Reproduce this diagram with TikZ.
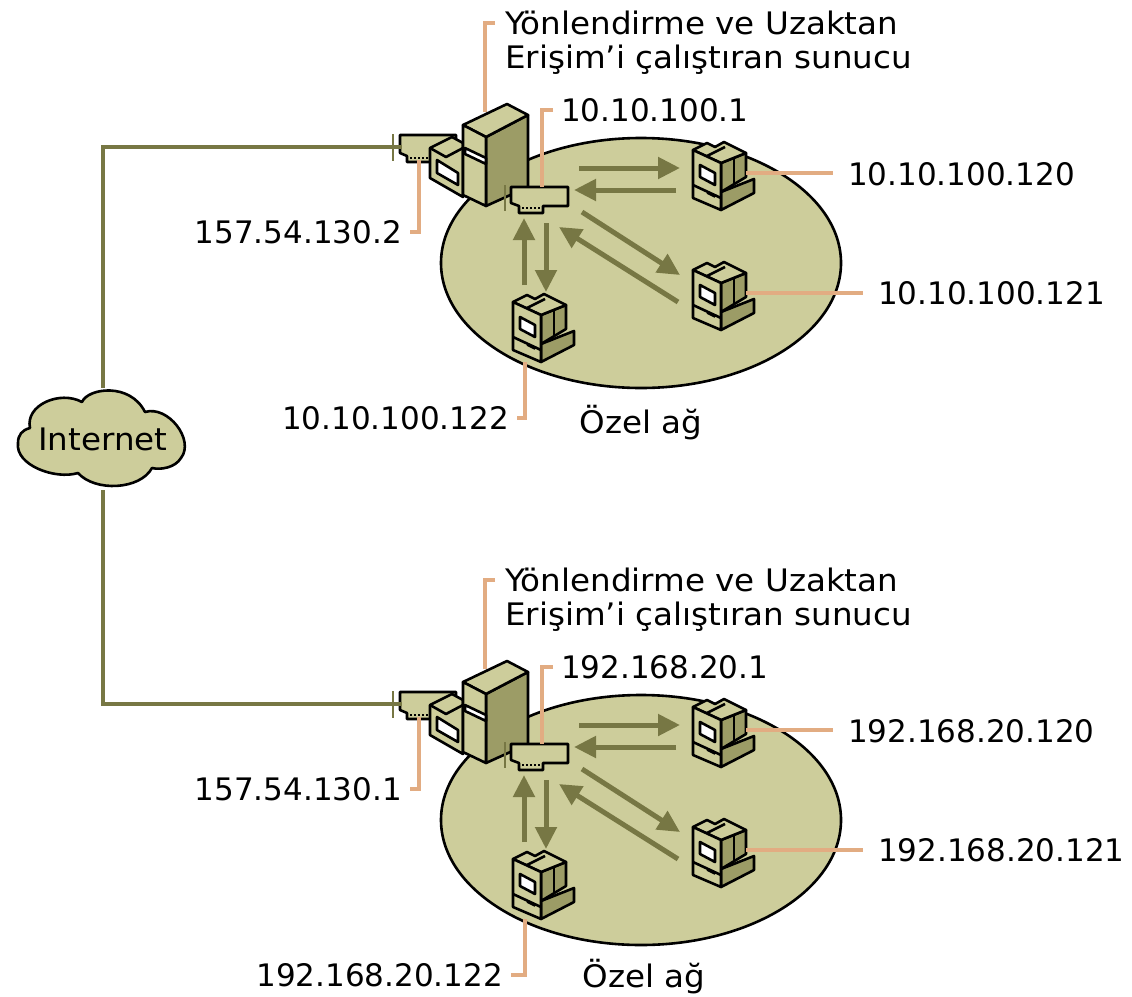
\documentclass[tikz,border=0pt]{standalone}
\usepackage{fontspec}
\setmainfont{DejaVu Sans}
\newfontfamily\widefont[FakeStretch=1.05]{DejaVu Sans}
\usetikzlibrary{arrows.meta}

\definecolor{olivefill}{HTML}{CDCD9B}
\definecolor{oliveside}{HTML}{9C9C66}
\definecolor{olivedark}{HTML}{777744}
\definecolor{leadercol}{HTML}{E2AC82}

\tikzset{
    txt/.style = {font=\fontsize{31}{34}\selectfont, inner ysep=0pt, inner xsep=0pt},
    widetxt/.style = {font=\widefont\fontsize{31}{34}\selectfont, inner ysep=0pt, inner xsep=0pt},
    iplabel/.style = {txt, inner xsep=8pt},
    leader/.style = {draw=leadercol, line width=4pt},
    wanline/.style = {draw=olivedark, line width=4pt},
    flow/.style = {draw=olivedark, line width=5pt, -{Triangle[length=22pt,width=21pt]}},
    blk/.style = {draw=black, line width=2.6pt, line join=round},
    face/.style = {blk, fill=olivefill},
    side/.style = {blk, fill=oliveside},
    pcunit/.style = {inner sep=0pt, minimum width=50pt, minimum height=60pt},
    pcbox/.pic = {
        % base and body
        \path[side] (0,12) -- (33,-1) -- (33,13) -- (0,30) -- cycle;
        \path[side] (0,-17) -- (25,-27) -- (25,-3) -- (0,12) -- cycle;
        \path[face] (-28,-30) -- (-14,-37) -- (-6,-33) -- (3,-38) -- (25,-27) -- (0,-17) -- cycle;
        \path[face] (13,-22) -- (13,4);
        \draw[blk] (-14,-24) -- (4,-33);
        \path[face] (-28,-30) -- (0,-17) -- (0,30) -- (-28,18) -- cycle;
        \path[blk, fill=white] (-21,-15) -- (-6,-7) -- (-6,5) -- (-21,-3) -- cycle;
        \draw[blk] (-28,5) -- (0,18);
        \draw[blk, line width=1.6pt] (-14,13) -- (-6,17);
    }
}

\begin{document}
\begin{tikzpicture}[x=1pt, y=-1pt]
    \useasboundingbox (0,0) rectangle (1132,996);

    % Bulut
    \node[txt, minimum width=164pt, minimum height=102pt] (cloud) at (103,439) {};

    \foreach \n/\yo/\cloudside/\wanip/\net/\ipcx/\privx/\privy in {
        1/0/north/157.54.130.2/10.10.100/517/641/423,
        2/557/south/157.54.130.1/192.168.20/511/644/420} {
    \begin{scope}[yshift=-\yo pt]

        % Privatno omrezje
        \fill[face] (641,263) ellipse [x radius=200, y radius=125];

        % Tocke
        \node[pcunit] (pca\n) at (721,180) {};
        \node[pcunit] (pcb\n) at (721,300) {};
        \node[pcunit] (pcc\n) at (541,332) {};
        \coordinate (wan\n) at (402,147);
        \coordinate (lantop\n) at (542,187);
        \coordinate (wantip\n) at (419,160);
        \coordinate (srvtop\n) at (485,112);
        \coordinate (srvhook\n) at (495,23);

        % Puscice
        \foreach \m/\ax/\ay/\bx/\by in {
            a/579/168/680/168, b/676/190/574/190,
            c/582/212/680/275, d/678/302/559/227,
            e/524/285/524/218, f/546/223/546/292} {
            \coordinate (from\m\n) at (\ax,\ay);
            \coordinate (to\m\n) at (\bx,\by);
            \draw[flow] (from\m\n) -- (to\m\n);
        }

        % Usmerjevalnik
        \path[face] (400,135) -- (456,135) -- (456,162) -- (407,162) -- (407,156) -- (400,153) -- cycle;
        \draw[blk, line width=1.5pt, dash pattern=on 2pt off 2pt] (410,158) -- (428,158);
        \draw[draw=olivedark, line width=2.5pt] (393,134) -- (393,161);
        \path[face] (430,148) -- (452,137) -- (463,143) -- (463,197) -- (430,178) -- cycle;
        \draw[blk] (430,148) -- (446,157) -- (463,148);
        \path[blk, fill=white] (437,160) -- (458,173) -- (458,185) -- (437,173) -- cycle;
        \path[side] (486,137) -- (528,115) -- (528,187) -- (486,206) -- cycle;
        \path[face] (463,125) -- (507,104) -- (528,115) -- (486,137) -- cycle;
        \path[face] (463,125) -- (486,137) -- (486,206) -- (463,195) -- cycle;
        \path[blk, fill=white] (465,148) -- (486,158) -- (486,164) -- (465,154) -- cycle;

        % Omrezna kartica
        \draw[draw=olivedark, line width=2.5pt] (505,185) -- (505,211);
        \path[face] (511,187) -- (568,187) -- (568,206) -- (543,206) -- (543,213) -- (519,213) -- (519,206) -- (511,203) -- cycle;
        \draw[blk, line width=1.5pt, dash pattern=on 2pt off 2pt] (522,208) -- (540,208);

        % Racunalniki
        \pic at (pca\n) {pcbox};
        \pic at (pcb\n) {pcbox};
        \pic at (pcc\n) {pcbox};

        % Oznake
        \node[widetxt, align=left, anchor=north west] (srvlabel\n) at (505,11) {Yönlendirme ve Uzaktan\\Erişim’i çalıştıran sunucu};
        \node[iplabel, anchor=west] (lanip\n) at (553,110) {\net.1};
        \node[iplabel, inner xsep=15pt, anchor=west] (ipa\n) at (833,174) {\net.120};
        \node[iplabel, inner xsep=15pt, anchor=west] (ipb\n) at (863,293) {\net.121};
        \node[iplabel, anchor=east] (ipc\n) at (\ipcx,418) {\net.122};
        \node[iplabel, anchor=east] (wanlabel\n) at (410,232) {\wanip};
        \node[widetxt] (priv\n) at (\privx,\privy) {Özel ağ};

        % Vodila
        \draw[leader] (srvhook\n) -| (srvtop\n);
        \draw[leader] (lanip\n.west) -| (lantop\n);
        \draw[leader] (wanlabel\n.east) -| (wantip\n);
        \draw[leader] (pca\n.east) ++(0,-7) -- (ipa\n.west |- 0,173);
        \draw[leader] (pcb\n.east) ++(0,-7) -- (ipb\n.west |- 0,293);
        \draw[leader] (ipc\n.east) -| (pcc\n.south -| 525,0);

        % Povezava do oblaka
        \draw[wanline] (cloud.\cloudside) |- (wan\n);
    \end{scope}
    }

    \path[blk, fill=olivefill] (82,402) .. controls (88,388) and (130,382) .. (145,412)
        .. controls (168,405) and (195,440) .. (181,458) .. controls (175,468) and (160,470) .. (152,468)
        .. controls (140,490) and (95,492) .. (78,473) .. controls (55,480) and (15,465) .. (18,443)
        .. controls (18,435) and (22,430) .. (30,428) .. controls (25,405) and (60,390) .. (82,402) -- cycle;
    \node[widetxt] (cloudtext) at (cloud.center) {Internet};
\end{tikzpicture}
\end{document}
